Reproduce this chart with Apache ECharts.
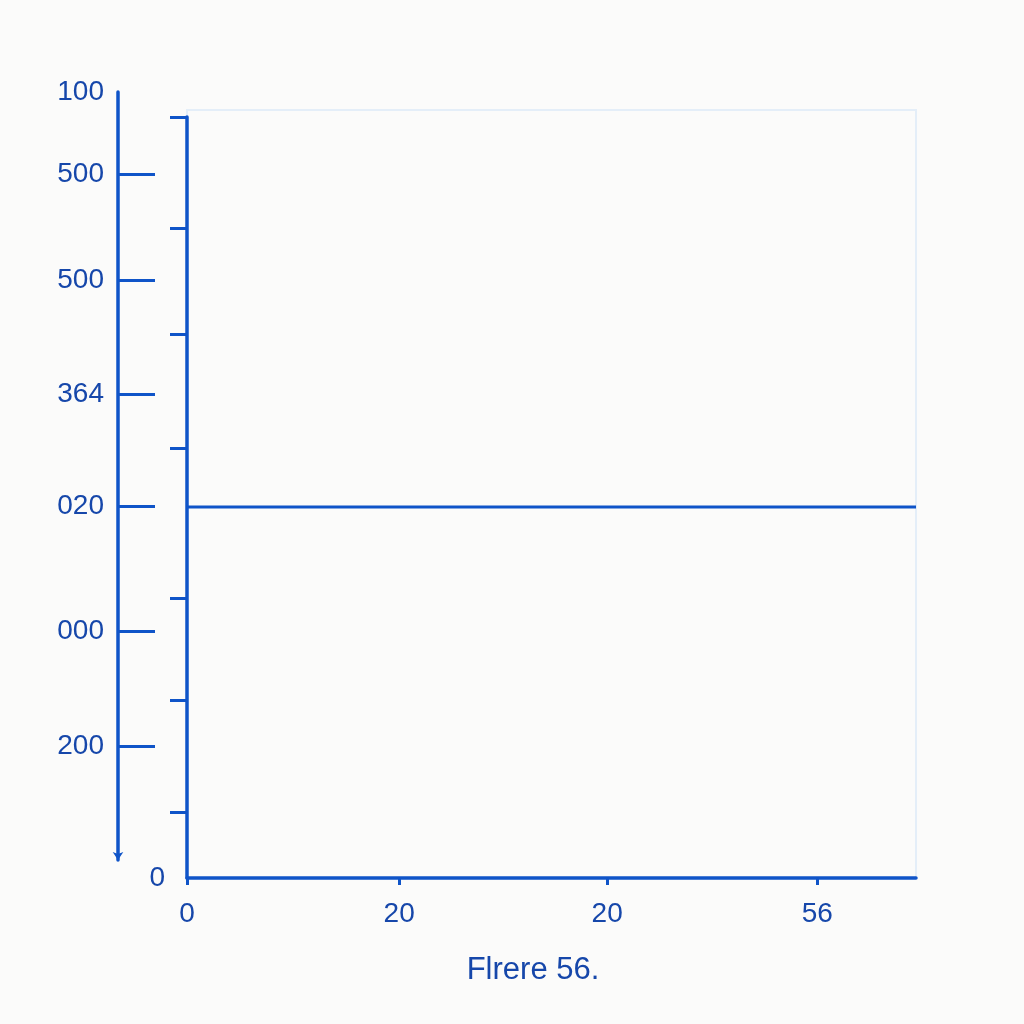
<!DOCTYPE html>
<html>
<head>
<meta charset="utf-8">
<script src="https://cdn.jsdelivr.net/npm/echarts@6/dist/echarts.min.js"></script>
<style>
html,body{margin:0;padding:0;background:#fbfbfa;}
#c{width:1024px;height:1024px;}
</style>
</head>
<body>
<div id="c"></div>
<script>
// ---- data ----
const xTickValues = [0, 1.01, 2.0, 3.0];
const xTickLabels = ['0', '20', '20', '56'];
const innerTickValues = [8.7, 23.4, 36.8, 56.5, 71.5, 85.4, 100];
const innerLabelValues = [0];
const innerLabels = ['0'];
const outerTickValues = [89.3, 75.5, 60.7, 46.0, 29.8, 14.8];
const outerLabelValues = [100, 89.3, 75.5, 60.7, 46.0, 29.8, 14.8];
const outerTickLabels = ['100', '500', '500', '364', '020', '000', '200'];
const lineX = [0, 3.47];
const lineY = [48.75, 48.75];
const titleText = 'Flrere 56.';

const AX = '#0f54c8';
const TX = '#1647aa';
const FONT = 'Liberation Sans';
const FS = 28;

const chart = echarts.init(document.getElementById('c'));
chart.setOption({
  backgroundColor: '#fbfbfa',
  animation: false,
  grid: [
    {left: 187, right: 108, top: 117, bottom: 146},
    {left: 118, right: 700, top: 92, bottom: 164},
    {left: 187, right: 108, top: 110, bottom: 146, show: true, borderColor: '#e4eef8', borderWidth: 2, backgroundColor: 'transparent'}
  ],
  xAxis: [
    {
      type: 'value', gridIndex: 0, min: 0, max: 3.47,
      axisLine: {show: true, lineStyle: {color: AX, width: 3.5}},
      axisTick: {show: true, customValues: xTickValues, length: 7, lineStyle: {color: AX, width: 3}},
      axisLabel: {customValues: xTickValues, margin: 22, color: TX, fontSize: FS, fontFamily: FONT,
        formatter: function (v) { const i = xTickValues.indexOf(v); return i >= 0 ? xTickLabels[i] : ''; }},
      splitLine: {show: false}
    },
    {type: 'value', gridIndex: 1, show: false},
    {type: 'value', gridIndex: 2, show: false}
  ],
  yAxis: [
    {
      type: 'value', gridIndex: 0, min: 0, max: 100,
      axisLine: {show: true, lineStyle: {color: AX, width: 3.5}},
      axisTick: {show: true, customValues: innerTickValues, length: 17, lineStyle: {color: AX, width: 3}},
      axisLabel: {customValues: innerLabelValues, margin: 22, color: TX, fontSize: FS, fontFamily: FONT,
        formatter: function (v) { const i = innerLabelValues.indexOf(v); return i >= 0 ? innerLabels[i] : ''; }},
      splitLine: {show: false}
    },
    {
      type: 'value', gridIndex: 1, min: 0, max: 100,
      axisLine: {show: true, symbol: ['arrow', 'none'], symbolSize: [8, 8], lineStyle: {color: AX, width: 3.5}},
      axisTick: {show: true, inside: true, customValues: outerTickValues, length: 37, lineStyle: {color: AX, width: 3}},
      axisLabel: {customValues: outerLabelValues, margin: 14, color: TX, fontSize: FS, fontFamily: FONT,
        formatter: function (v) { const i = outerLabelValues.indexOf(v); return i >= 0 ? outerTickLabels[i] : ''; }},
      splitLine: {show: false}
    },
    {type: 'value', gridIndex: 2, show: false}
  ],
  series: [
    {
      type: 'line', xAxisIndex: 0, yAxisIndex: 0,
      data: lineX.map(function (x, i) { return [x, lineY[i]]; }),
      showSymbol: false, lineStyle: {color: AX, width: 3}
    }
  ],
  graphic: [
    {type: 'text', x: 533, y: 970, style: {text: titleText, fill: TX, fontSize: 31, fontFamily: FONT, textAlign: 'center', textVerticalAlign: 'middle'}}
  ]
});
</script>
</body>
</html>
